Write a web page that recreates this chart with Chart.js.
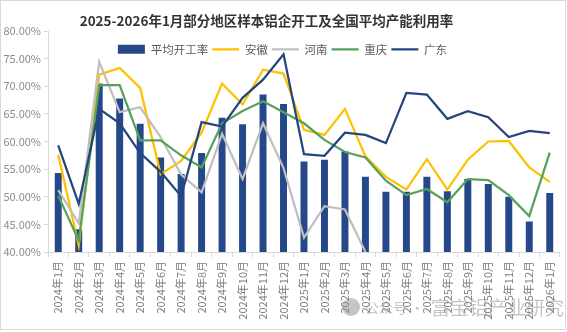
<!DOCTYPE html>
<html><head><meta charset="utf-8">
<script src="https://cdn.jsdelivr.net/npm/chart.js@4.4.1/dist/chart.umd.min.js"></script>
<style>html,body{margin:0;padding:0;background:#fff}canvas{display:block}</style>
</head><body>
<canvas id="c" width="567" height="332"></canvas>
<script>
const categories = ['2024年1月','2024年2月','2024年3月','2024年4月','2024年5月','2024年6月','2024年7月','2024年8月','2024年9月','2024年10月','2024年11月','2024年12月','2025年1月','2025年2月','2025年3月','2025年4月','2025年5月','2025年6月','2025年7月','2025年8月','2025年9月','2025年10月','2025年11月','2025年12月','2026年1月'];
const avgRate   = [54.3, 44.1, 70.5, 67.8, 63.2, 57.1, 54.1, 57.9, 64.3, 63.1, 68.5, 66.8, 56.4, 56.7, 58.2, 53.6, 50.9, 50.9, 53.6, 51.0, 53.2, 52.3, 50.0, 45.5, 50.7];
const anhui     = [57.6, 41.2, 72.1, 73.3, 69.7, 54.1, 56.5, 61.6, 70.5, 66.7, 73.0, 72.3, 62.1, 61.2, 65.9, 57.3, 53.6, 51.3, 56.8, 51.3, 56.7, 60.0, 60.1, 55.3, 52.7];
const henan     = [51.2, 45.2, 74.4, 65.3, 66.2, 60.8, 54.0, 50.8, 61.4, 53.2, 63.3, 55.2, 42.6, 48.3, 47.7, 40.0, null, null, null, null, null, null, null, null, null];
const chongqing = [50.2, 42.1, 70.2, 70.2, 60.2, 60.2, 57.5, 55.3, 63.3, 65.5, 67.3, 65.3, 63.3, 60.3, 58.1, 57.1, 52.9, 50.3, 51.4, 49.0, 53.2, 53.0, 50.3, 46.5, 58.0];
const guangdong = [59.3, 48.7, 65.9, 63.3, 57.9, 54.5, 50.1, 63.5, 62.7, 67.9, 71.2, 75.8, 57.7, 57.4, 61.6, 61.2, 59.7, 68.8, 68.5, 64.1, 65.5, 64.4, 60.8, 61.9, 61.5];
const yTicks = [40, 45, 50, 55, 60, 65, 70, 75, 80];
const seriesNames = ['平均开工率', '安徽', '河南', '重庆', '广东'];
const titleText = '2025-2026年1月部分地区样本铝企开工及全国平均产能利用率';
const watermarkSmall = '公众号 ·';
const watermarkName = '富宝铝产业研究';

const FONT = '"Noto Sans CJK SC", "Noto Sans", sans-serif';
const AXIS = '#d9d9d9';

const overlay = {
  id: 'overlay',
  beforeLayout(chart) {
    const lg = chart.legend;
    if (lg && !lg._zeroPatched) {
      const origFit = lg.fit.bind(lg);
      lg.fit = function () { origFit(); this._realHeight = this.height; this.height = 0; };
      lg._zeroPatched = true;
    }
  },
  afterLayout(chart) {
    const lg = chart.legend;
    if (lg) {
      const h = lg._realHeight || 20;
      lg.left = 0; lg.right = 565; lg.width = 565;
      lg.top = chart.chartArea.top + 8.5; lg.height = h; lg.bottom = lg.top + h;
    }
  },
  beforeDraw(chart) {
    const ctx = chart.ctx;
    ctx.save(); ctx.fillStyle = '#fff'; ctx.fillRect(0, 0, chart.width, chart.height); ctx.restore();
  },
  afterDraw(chart) {
    const ctx = chart.ctx;
    ctx.save();
    ctx.fillStyle = '#333333';
    ctx.font = 'bold 13.5px ' + FONT;
    ctx.textAlign = 'center'; ctx.textBaseline = 'middle';
    ctx.fillText(titleText, 266.5, 21);
    // watermark
    ctx.fillStyle = 'rgba(140,140,140,0.5)';
    ctx.beginPath(); ctx.arc(351, 307, 9, 0, Math.PI * 2); ctx.fill();
    ctx.textAlign = 'left';
    ctx.font = '14px ' + FONT;
    ctx.fillText(watermarkSmall, 365, 308);
    ctx.font = '19px ' + FONT;
    ctx.fillText(watermarkName, 431, 308);
    // border
    ctx.strokeStyle = AXIS; ctx.lineWidth = 1;
    ctx.strokeRect(0.5, 0.5, 565, 329);
    ctx.restore();
  }
};

const lineDs = (label, data, color, order) => ({
  type: 'line', label, data, borderColor: color, backgroundColor: color,
  borderWidth: 2.25, pointRadius: 0, pointHoverRadius: 0, tension: 0,
  pointStyle: 'line', order, spanGaps: false
});

new Chart(document.getElementById('c'), {
  type: 'bar',
  data: {
    labels: categories,
    datasets: [
      { type: 'bar', label: seriesNames[0], data: avgRate, backgroundColor: '#24488a', borderWidth: 0,
        barPercentage: 0.34, categoryPercentage: 1, pointStyle: 'rect', order: 10 },
      lineDs(seriesNames[1], anhui, '#ffc000', 4),
      lineDs(seriesNames[2], henan, '#bfbfbf', 3),
      lineDs(seriesNames[3], chongqing, '#56a15e', 2),
      lineDs(seriesNames[4], guangdong, '#24457f', 1)
    ]
  },
  options: {
    responsive: false,
    animation: false,
    devicePixelRatio: 1,
    layout: { padding: { top: 31, left: 0, right: 3, bottom: 0 } },
    plugins: {
      title: { display: false },
      tooltip: { enabled: false },
      legend: {
        position: 'top',
        align: 'center',
        labels: {
          usePointStyle: true, pointStyleWidth: 27, boxHeight: 9,
          padding: 4, color: '#595959',
          font: { family: FONT, size: 11.5 },
          sort: (a, b) => a.datasetIndex - b.datasetIndex
        }
      }
    },
    scales: {
      x: {
        offset: true,
        grid: { drawOnChartArea: false, tickLength: 5, color: AXIS, offset: true },
        border: { color: AXIS },
        ticks: { autoSkip: false, maxRotation: 90, minRotation: 90, padding: 4, color: '#7f7f7f',
                 font: { family: FONT, size: 11 } },
        afterFit(s) { s.height = 80; }
      },
      y: {
        min: 40, max: 80,
        grid: { drawOnChartArea: false, tickLength: 4, color: AXIS },
        border: { color: AXIS },
        afterBuildTicks(s) { s.ticks = yTicks.map(v => ({ value: v })); },
        ticks: { padding: 3, color: '#8c8c8c', font: { family: FONT, size: 11 },
                 callback: v => Number(v).toFixed(2) + '%' },
        afterFit(s) { s.width = 48; }
      }
    }
  },
  plugins: [overlay]
});
</script>
</body></html>
